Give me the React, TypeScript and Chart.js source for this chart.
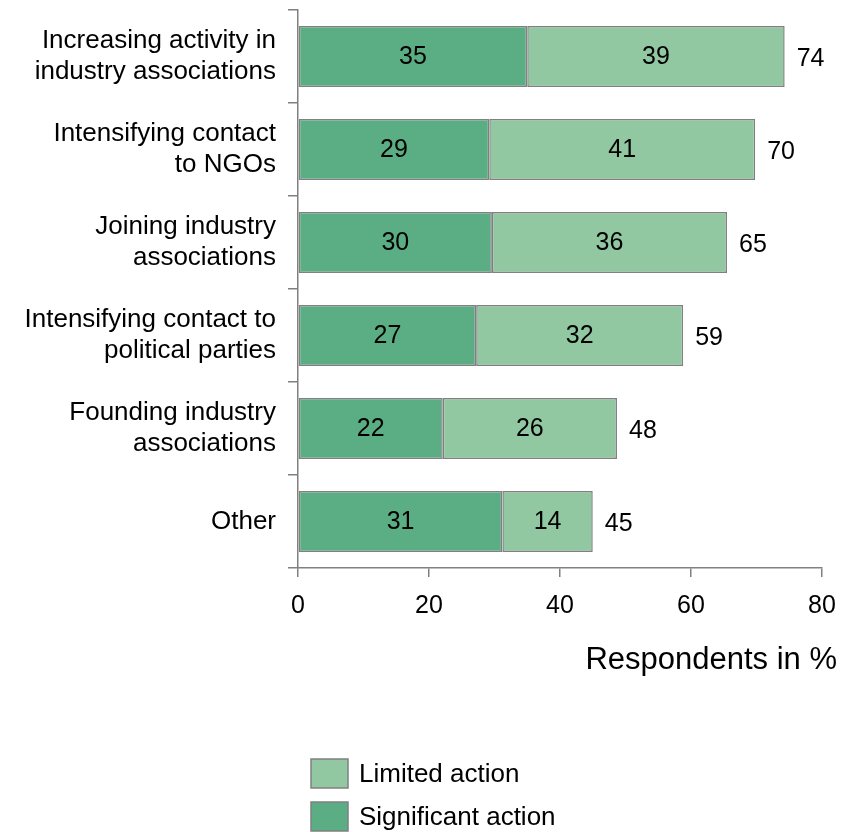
import React, { useEffect, useRef } from "react";
import { Chart, registerables } from "chart.js";

Chart.register(...registerables);

const categories: string[][] = [
  ["Increasing activity in", "industry associations"],
  ["Intensifying contact", "to NGOs"],
  ["Joining industry", "associations"],
  ["Intensifying contact to", "political parties"],
  ["Founding industry", "associations"],
  ["Other"],
];
const significantValues = [35, 29.2, 29.6, 27.2, 22.1, 31.2];
const limitedValues = [39.3, 40.6, 35.9, 31.6, 26.6, 13.8];
const significantLabels = ["35", "29", "30", "27", "22", "31"];
const limitedLabels = ["39", "41", "36", "32", "26", "14"];
const totalLabels = ["74", "70", "65", "59", "48", "45"];
const xTicks = [0, 20, 40, 60, 80];

const FONT = "'Liberation Sans', Arial, sans-serif";
const DARK = "#5BAE84";
const LIGHT = "#91C7A1";
const EDGE = "#808080";

const overlayPlugin = {
  id: "overlay",
  afterDatasetsDraw(chart: any) {
    const ctx = chart.ctx;
    ctx.save();
    ctx.fillStyle = "#000";
    ctx.font = `25px ${FONT}`;
    ctx.textBaseline = "middle";
    const labelSets = [significantLabels, limitedLabels];
    chart.data.datasets.forEach((_ds: any, di: number) => {
      const meta = chart.getDatasetMeta(di);
      meta.data.forEach((bar: any, i: number) => {
        ctx.textAlign = "center";
        ctx.fillText(labelSets[di][i], (bar.x + bar.base) / 2, bar.y + 1);
        if (di === 1) {
          ctx.textAlign = "left";
          ctx.fillText(totalLabels[i], bar.x + 12, bar.y + 3);
        }
      });
    });
    ctx.restore();
  },
  afterDraw(chart: any) {
    const ctx = chart.ctx;
    ctx.save();
    ctx.fillStyle = "#000";
    ctx.textBaseline = "alphabetic";
    ctx.textAlign = "right";
    ctx.font = `31px ${FONT}`;
    ctx.fillText("Respondents in %", 837, 669);
    // legend
    const items = [
      { label: "Limited action", color: LIGHT, y: 759 },
      { label: "Significant action", color: DARK, y: 802 },
    ];
    ctx.font = `26px ${FONT}`;
    ctx.textAlign = "left";
    ctx.textBaseline = "middle";
    items.forEach((it) => {
      ctx.fillStyle = it.color;
      ctx.fillRect(311, it.y, 37, 29);
      ctx.strokeStyle = EDGE;
      ctx.lineWidth = 1.5;
      ctx.strokeRect(311, it.y, 37, 29);
      ctx.fillStyle = "#000";
      ctx.fillText(it.label, 359, it.y + 16);
    });
    ctx.restore();
  },
};

export default function App() {
  const ref = useRef<HTMLCanvasElement | null>(null);
  useEffect(() => {
    if (!ref.current) return;
    const chart = new Chart(ref.current, {
      type: "bar",
      data: {
        labels: categories as any,
        datasets: [
          {
            label: "Significant action",
            data: significantValues,
            backgroundColor: DARK,
            borderColor: EDGE,
            borderWidth: 1.5,
            borderSkipped: false,
            categoryPercentage: 1,
            barPercentage: 0.656,
          },
          {
            label: "Limited action",
            data: limitedValues,
            backgroundColor: LIGHT,
            borderColor: EDGE,
            borderWidth: 1.5,
            borderSkipped: false,
            categoryPercentage: 1,
            barPercentage: 0.656,
          },
        ],
      },
      options: {
        indexAxis: "y",
        responsive: false,
        animation: false,
        devicePixelRatio: 1,
        layout: { padding: { top: 10, right: 36, bottom: 0, left: 0 } },
        plugins: {
          legend: { display: false },
          tooltip: { enabled: false },
        },
        scales: {
          x: {
            stacked: true,
            min: 0,
            max: 80,
            afterBuildTicks(scale: any) {
              scale.ticks = xTicks.map((v) => ({ value: v }));
            },
            afterFit(scale: any) {
              scale.height = 264;
              scale.paddingLeft = 0;
              scale.paddingRight = 0;
            },
            grid: {
              drawOnChartArea: false,
              drawTicks: true,
              tickLength: 9,
              color: EDGE,
              lineWidth: 1.5,
            },
            border: { display: true, color: EDGE, width: 1.5 },
            ticks: {
              color: "#000",
              padding: 14,
              font: { family: FONT, size: 25 },
              maxRotation: 0,
            },
          },
          y: {
            stacked: true,
            afterFit(scale: any) {
              scale.width = 298;
              scale.paddingTop = 0;
              scale.paddingBottom = 0;
            },
            grid: {
              offset: true,
              drawOnChartArea: false,
              drawTicks: true,
              tickLength: 10,
              color: EDGE,
              lineWidth: 1.5,
            },
            border: { display: true, color: EDGE, width: 1.5 },
            ticks: {
              color: "#000",
              padding: 12,
              font: { family: FONT, size: 26, lineHeight: 1.2 },
            },
          },
        },
      },
      plugins: [overlayPlugin],
    });
    return () => chart.destroy();
  }, []);
  return (
    <div style={{ position: "fixed", left: 0, top: 0, width: 858, height: 832, background: "#fff" }}>
      <canvas ref={ref} width={858} height={832} style={{ display: "block" }} />
    </div>
  );
}
